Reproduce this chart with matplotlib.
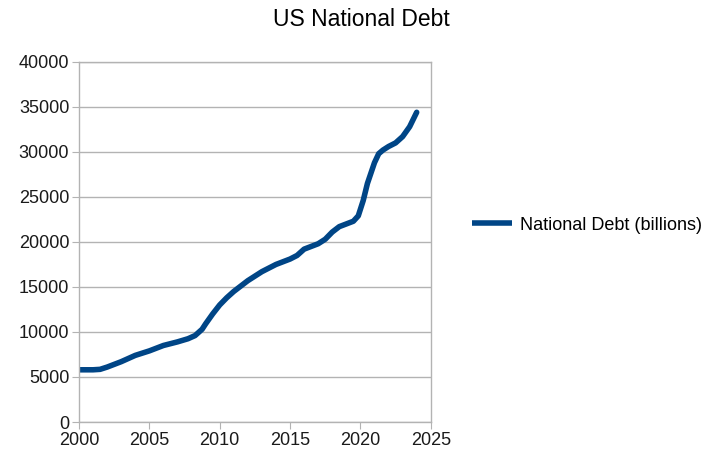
import numpy as np
import matplotlib
matplotlib.use('Agg')
from matplotlib import pyplot as plt

plt.rcParams['font.family'] = ['Liberation Sans', 'DejaVu Sans']

## Data (billions of dollars)
years = [2000.0, 2001.0, 2001.5, 2002.0, 2003.0, 2004.0, 2005.0, 2006.0, 2007.0,
         2007.75, 2008.25, 2008.75, 2009.0, 2009.5, 2010.0, 2010.5, 2011.0, 2012.0,
         2013.0, 2014.0, 2015.0, 2015.5, 2016.0, 2017.0, 2017.5, 2018.0, 2018.5,
         2019.0, 2019.5, 2019.85, 2020.2, 2020.5, 2021.0, 2021.3, 2021.6, 2022.0,
         2022.5, 2023.0, 2023.5, 2024.0]
debt = [5800, 5800, 5850, 6100, 6700, 7400, 7900, 8500, 8900,
        9250, 9600, 10300, 10900, 12000, 13000, 13800, 14500, 15700,
        16700, 17500, 18100, 18500, 19200, 19800, 20300, 21100, 21700,
        22000, 22300, 22900, 24600, 26500, 28800, 29800, 30200, 30600,
        31000, 31700, 32800, 34400]
xticks = [2000, 2005, 2010, 2015, 2020, 2025]
yticks = list(range(0, 40001, 5000))

grey = '#b3b3b3'
blue = '#004586'

fig = plt.figure(figsize=(7.05, 4.55), dpi=100)
ax = fig.add_axes([0.112, 0.0725, 0.499, 0.7915])

line, = ax.plot(years, debt, color=blue, lw=4, solid_capstyle='round',
                solid_joinstyle='round', label='National Debt (billions)')

ax.set_xlim(2000, 2025)
ax.set_ylim(0, 40000)
ax.set_xticks(xticks)
ax.set_yticks(yticks)
ax.yaxis.grid(True, color=grey, lw=1)
ax.set_axisbelow(True)
for s in ax.spines.values():
    s.set_color(grey)
    s.set_linewidth(1)
ax.tick_params(axis='both', direction='out', length=5, color=grey,
               labelsize=13, labelcolor='#1a1a1a', pad=2)

# Title sits slightly right of the figure centre in the original
fig.text(0.512, 0.958, 'US National Debt', ha='center', va='center', fontsize=16.5)

leg = fig.legend(handles=[line], loc='center left', bbox_to_anchor=(0.6695, 0.505),
                 frameon=False, fontsize=13, handlelength=2.2, handletextpad=0.45,
                 borderpad=0, borderaxespad=0)
leg.get_lines()[0].set_solid_capstyle('butt')

fig.savefig('out.png', dpi=100)
